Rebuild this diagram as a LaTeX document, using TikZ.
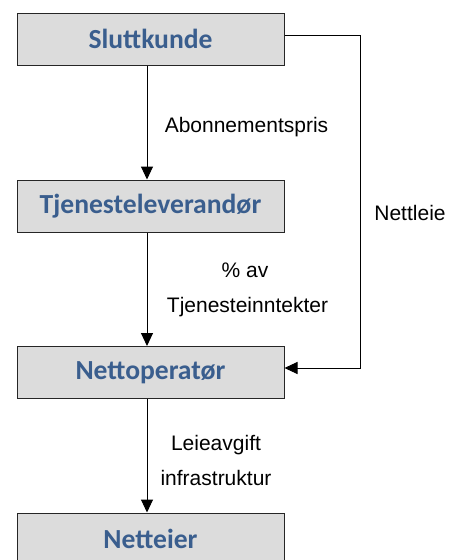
\documentclass[tikz,border=0pt]{standalone}
\usepackage{fontspec}
\setmainfont{Liberation Sans}
\newfontfamily\boxfont{Carlito}
\usetikzlibrary{arrows.meta}
\definecolor{boxfill}{HTML}{DCDCDC}
\definecolor{boxtext}{HTML}{3A5E8E}
\tikzset{
  party/.style={draw=black!85, line width=1pt, fill=boxfill, minimum width=267pt,
    minimum height=52pt, inner sep=0pt, text=boxtext,
    font=\boxfont\bfseries\fontsize{27.6}{31}\selectfont},
  flow/.style={line width=1pt, -{Triangle[width=12pt,length=13pt]}},
  lbl/.style={inner sep=0pt, font=\fontsize{21}{24}\selectfont, anchor=base}
}
\begin{document}
\begin{tikzpicture}[x=1pt,y=-1pt]
  \useasboundingbox (0,0) rectangle (453,560);
  \clip (0,0) rectangle (453,560);
  % the four parties
  \node[party] (kunde)  at (150.5,39)  {Sluttkunde};
  \node[party] (tjen)   at (150.5,206) {Tjenesteleverandør};
  \node[party] (netop)  at (150.5,372.5) {Nettoperatør};
  \node[party] (eier)   at (150.5,539) {Netteier};
  % payment flows
  \draw[flow] (kunde.south -| 147,0) -- (tjen.north -| 147,0);
  \draw[flow] (tjen.south -| 147,0) -- (netop.north -| 147,0);
  \draw[flow] (netop.south -| 147,0) -- (eier.north -| 147,0);
  \coordinate (r1) at (360,35);
  \coordinate (r2) at (360,368);
  \draw[flow] (kunde.east |- r1) -- (r1) -- (r2) -- (netop.east |- r2);
  % flow labels
  \node[lbl] (l1) at (246.5,132) {Abonnementspris};
  \node[lbl] (l2) at (410,220) {Nettleie};
  \node[lbl] (l3) at (245,277) {\% av};
  \node[lbl] (l4) at (247.5,312) {Tjenesteinntekter};
  \node[lbl] (l5) at (216,450) {Leieavgift};
  \node[lbl] (l6) at (216,485) {infrastruktur};
\end{tikzpicture}
\end{document}
